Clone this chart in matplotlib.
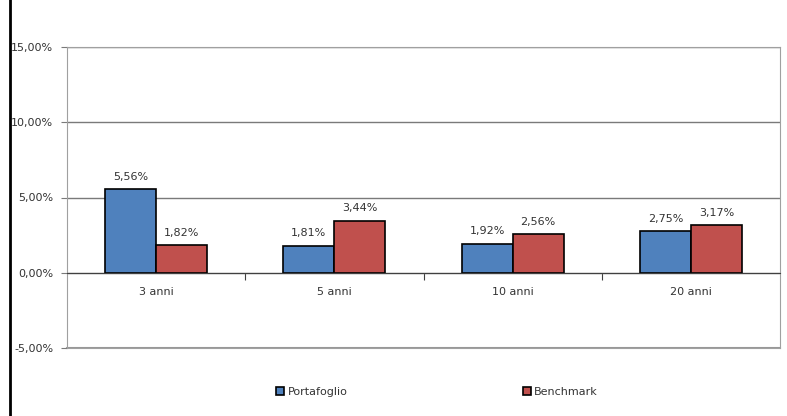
import numpy as np
import matplotlib.pyplot as plt
from matplotlib.lines import Line2D
from matplotlib.patches import Patch

categories = ['3 anni', '5 anni', '10 anni', '20 anni']
portafoglio = [5.56, 1.81, 1.92, 2.75]
benchmark = [1.82, 3.44, 2.56, 3.17]
series_names = ['Portafoglio', 'Benchmark']
colors = ['#4F81BD', '#C0504D']
yticks = [-5, 0, 5, 10, 15]

fig = plt.figure(figsize=(7.87, 4.16), dpi=100)
ax = fig.add_axes([67 / 787, 68 / 416, 713 / 787, 301 / 416])

x = np.arange(len(categories))
w = 0.286
txt = '#333333'
for i, (vals, col) in enumerate(zip([portafoglio, benchmark], colors)):
    pos = x + (i - 0.5) * w
    ax.bar(pos, vals, w, color=col, edgecolor='black', linewidth=1.2, zorder=3)
    for p, v in zip(pos, vals):
        ax.text(p, v + 0.5, f'{v:.2f}%'.replace('.', ','), ha='center', va='bottom',
                fontsize=8, color=txt)

ax.set_xlim(-0.5, len(categories) - 0.5)
ax.set_ylim(-5, 15)
ax.set_yticks(yticks)
ax.set_yticklabels([f'{v:.2f}%'.replace('.', ',') for v in yticks], fontsize=8, color=txt)
ax.yaxis.grid(True, color='#7a7a7a', linewidth=1, zorder=0)
ax.axhline(-5, color='#a0a0a0', linewidth=1.5, clip_on=False, zorder=1)
ax.tick_params(axis='y', length=4, color='#7a7a7a', pad=6)

# category axis sits on the zero line
ax.spines['bottom'].set_position(('data', 0))
ax.spines['bottom'].set_color('#404040')
ax.spines['bottom'].set_zorder(4)
for s in ['left', 'right', 'top']:
    ax.spines[s].set_color('#a0a0a0')
ax.set_xticks(x[:-1] + 0.5)
ax.set_xticklabels([])
ax.tick_params(axis='x', which='major', length=5, color='#404040', direction='out')
ax.set_xticks(x, minor=True)
ax.set_xticklabels(categories, minor=True, fontsize=8, color=txt)
ax.tick_params(axis='x', which='minor', length=0, pad=10)

handles = [Patch(facecolor=c, edgecolor='black', linewidth=1.2) for c in colors]
fig.legend(handles, series_names, loc='center', bbox_to_anchor=(437 / 787, 1 - 392 / 416),
           ncol=2, frameon=False, fontsize=8, handlelength=0.7, handleheight=0.7,
           handletextpad=0.3, columnspacing=15.8, labelcolor=txt)

fig.add_artist(Line2D([10 / 787, 10 / 787], [0, 1], color='black', linewidth=2))

fig.savefig('out.png', dpi=100)
